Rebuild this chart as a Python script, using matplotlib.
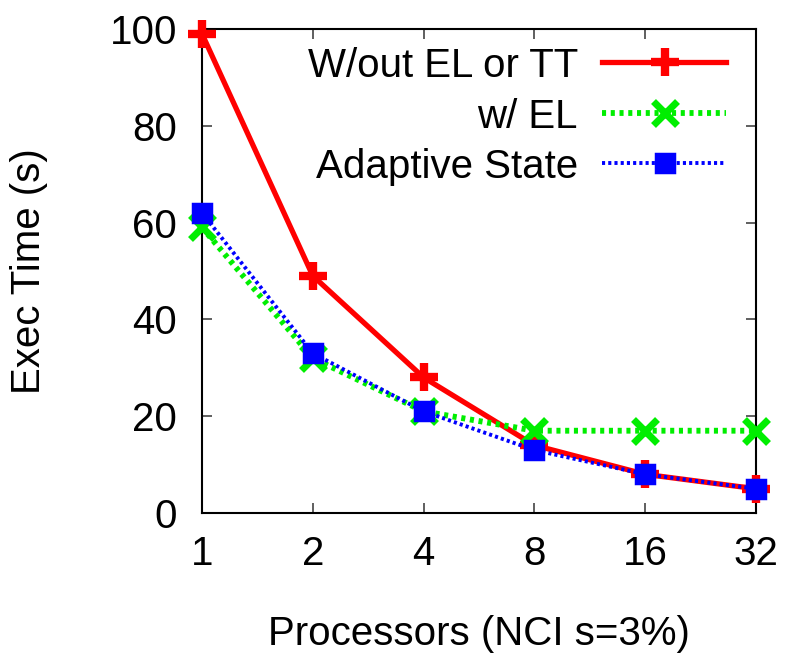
import matplotlib
matplotlib.use("Agg")
import matplotlib.pyplot as plt

# data
procs = ["1", "2", "4", "8", "16", "32"]
no_el_tt = [99, 49, 28, 14, 8, 5]
with_el = [59, 32, 21, 17, 17, 17]
adaptive = [62, 33, 21, 13, 8, 5]
labels = ["W/out EL or TT", "w/ EL", "Adaptive State"]

plt.rcParams["font.family"] = ["Liberation Sans", "DejaVu Sans"]
FS = 29

fig = plt.figure(figsize=(7.88, 6.6), dpi=100)
ax = fig.add_axes([202 / 788, 1 - 513 / 660, (756 - 202) / 788, (513 - 29) / 660])

xpos = list(range(len(procs)))
styles = [
    dict(color="#ff0000", lw=3.8, ls="-", marker="+", ms=20, mew=6),
    dict(color="#00ee00", lw=4.2, ls=(0, (0.7, 0.8)), marker="x", ms=17, mew=5),
    dict(color="#0000ff", lw=2.8, ls=(0, (0.8, 0.8)), marker="s", ms=13,
         mew=2.5, mec="#0000ff"),
]
series = [no_el_tt, with_el, adaptive]
for vals, st in zip(series, styles):
    ax.plot(xpos, vals, clip_on=False, zorder=3, **st)

ax.set_xlim(0, len(procs) - 1)
ax.set_ylim(0, 100)
ax.set_xticks(xpos)
ax.set_xticklabels(procs)
ax.set_yticks([0, 20, 40, 60, 80, 100])
ax.tick_params(direction="in", length=7, width=1.2, top=True, right=True,
               labelsize=FS, color="#444444")
ax.tick_params(axis="y", pad=18)
ax.tick_params(axis="x", pad=16)
for s in ax.spines.values():
    s.set_linewidth(1.5)

ax.set_xlabel("Processors (NCI s=3%)", fontsize=FS, labelpad=30)
ax.set_ylabel("Exec Time (s)", fontsize=FS, labelpad=44)

# gnuplot-style key: right-aligned text, sample to the right
W, H = 756 - 202, 513 - 29
rows_y = [62, 113, 163]
for lab, st, yy in zip(labels, styles, rows_y):
    ya = (513 - yy) / H
    ax.text((578 - 202) / W, ya, lab, transform=ax.transAxes, ha="right",
            va="center_baseline", fontsize=FS)
    xs = [(602 - 202) / W, (665 - 202) / W, (726 - 202) / W]
    ax.plot(xs, [ya] * 3, transform=ax.transAxes, markevery=[1],
            clip_on=False, **st)

fig.savefig("out.png", dpi=100)
